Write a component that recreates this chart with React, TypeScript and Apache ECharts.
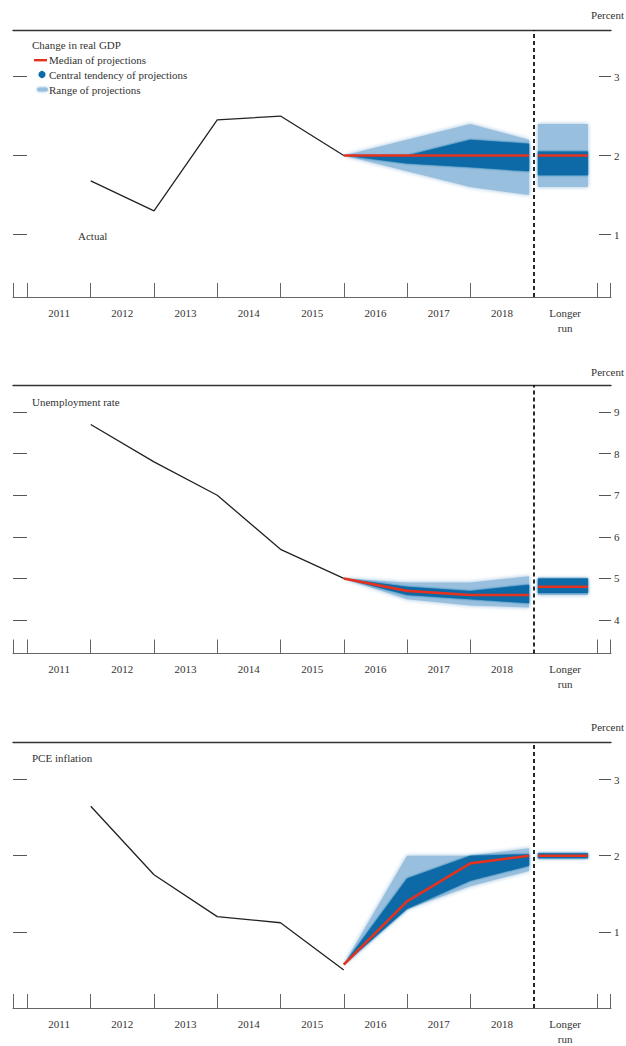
import React, { useEffect, useRef } from 'react';
import * as echarts from 'echarts';

// ---------- DATA ----------
const categories = ['2011', '2012', '2013', '2014', '2015', '2016', '2017', '2018', 'Longer\nrun'];
const actualYears = [2011, 2012, 2013, 2014, 2015];
const projYears = [2015, 2016, 2017, 2018];

// Change in real GDP
const gdpActual = [1.68, 1.3, 2.45, 2.5, 2.0];
const gdpMedian = [2.0, 2.0, 2.0, 2.0];
const gdpCentralLow = [2.0, 1.9, 1.85, 1.8];
const gdpCentralHigh = [2.0, 2.0, 2.2, 2.15];
const gdpRangeLow = [2.0, 1.8, 1.6, 1.5];
const gdpRangeHigh = [2.0, 2.2, 2.4, 2.2];
const gdpLongerRun = [1.6, 1.75, 2.0, 2.05, 2.4]; // range low, central low, median, central high, range high
const gdpTicks = [1, 2, 3];

// Unemployment rate
const urActual = [8.7, 7.8, 7.0, 5.7, 5.0];
const urMedian = [5.0, 4.7, 4.6, 4.6];
const urCentralLow = [5.0, 4.6, 4.5, 4.4];
const urCentralHigh = [5.0, 4.8, 4.7, 4.85];
const urRangeLow = [5.0, 4.5, 4.35, 4.3];
const urRangeHigh = [5.0, 4.9, 4.9, 5.05];
const urLongerRun = [4.6, 4.65, 4.8, 5.0, 5.0];
const urTicks = [4, 5, 6, 7, 8, 9];

// PCE inflation
const pceActual = [2.65, 1.75, 1.2, 1.12, 0.5];
const pceMedian = [0.57, 1.4, 1.9, 2.0];
const pceCentralLow = [0.57, 1.3, 1.67, 1.87];
const pceCentralHigh = [0.57, 1.7, 2.0, 2.02];
const pceRangeLow = [0.57, 1.3, 1.6, 1.8];
const pceRangeHigh = [0.57, 2.0, 2.0, 2.1];
const pceLongerRun = [2.0, 2.0, 2.0, 2.0, 2.0];
const pceTicks = [1, 2, 3];

// ---------- STYLE / LAYOUT ----------
const FONT = '"Liberation Serif", "DejaVu Serif", serif';
const FS = 11;
const TEXT = '#333';
const RED = '#E4321F';
const DARK = '#0D6BA6';
const LIGHT = '#98BFDE';
const X_MIN = -0.229;
const X_MAX = 9.225;
const LR_X0 = 8.07;
const LR_X1 = 8.86;
const END_GAP = 0.07;

const yearX = (y: number) => Math.min(y - 2010, 8 - END_GAP);

function bandSeries(gi: number, lo: number[], hi: number[], color: string, z: number, blur: number) {
  const xs = projYears.map(yearX);
  return {
    type: 'custom',
    xAxisIndex: 2 * gi,
    yAxisIndex: 2 * gi,
    z,
    silent: true,
    data: xs.map((x, k) => [x, lo[k], hi[k]]),
    encode: { x: 0, y: [1, 2] },
    renderItem: (params: any, api: any) => {
      if (params.dataIndex !== 0) return null;
      const top = xs.map((x, k) => api.coord([x, hi[k]]));
      const bot = xs.map((x, k) => api.coord([x, lo[k]])).reverse();
      return {
        type: 'polygon',
        shape: { points: top.concat(bot) },
        style: { fill: color, shadowBlur: blur, shadowColor: color },
      };
    },
  };
}

function boxSeries(gi: number, lo: number, hi: number, color: string, z: number, blur: number) {
  return {
    type: 'custom',
    xAxisIndex: 2 * gi,
    yAxisIndex: 2 * gi,
    z,
    silent: true,
    data: [[LR_X0, LR_X1, lo, hi]],
    encode: { x: [0, 1], y: [2, 3] },
    renderItem: (params: any, api: any) => {
      const a = api.coord([api.value(0), api.value(3)]);
      const b = api.coord([api.value(1), api.value(2)]);
      let y = a[1];
      let h = b[1] - a[1];
      if (h < 5) {
        y = (a[1] + b[1]) / 2 - 2.5;
        h = 5;
      }
      return {
        type: 'rect',
        shape: { x: a[0], y, width: b[0] - a[0], height: h },
        style: { fill: color, shadowBlur: blur, shadowColor: color },
      };
    },
  };
}

const panels = [
  {
    top: 30, height: 267, yMin: 0.209, yMax: 3.589, ticks: gdpTicks,
    actual: gdpActual, median: gdpMedian, cLo: gdpCentralLow, cHi: gdpCentralHigh,
    rLo: gdpRangeLow, rHi: gdpRangeHigh, lr: gdpLongerRun,
  },
  {
    top: 385, height: 268.5, yMin: 3.195, yMax: 9.649, ticks: urTicks,
    actual: urActual, median: urMedian, cLo: urCentralLow, cHi: urCentralHigh,
    rLo: urRangeLow, rHi: urRangeHigh, lr: urLongerRun,
  },
  {
    top: 742, height: 268.5, yMin: 0.0, yMax: 3.494, ticks: pceTicks,
    actual: pceActual, median: pceMedian, cLo: pceCentralLow, cHi: pceCentralHigh,
    rLo: pceRangeLow, rHi: pceRangeHigh, lr: pceLongerRun,
  },
];

function buildOption() {
  const grid: any[] = [];
  const xAxis: any[] = [];
  const yAxis: any[] = [];
  const series: any[] = [];

  panels.forEach((p, gi) => {
    grid.push({ left: 13, right: 15, top: p.top, height: p.height, containLabel: false });
    xAxis.push({
      type: 'value', gridIndex: gi, position: 'bottom', min: X_MIN, max: X_MAX,
      axisLine: { show: true, onZero: false, lineStyle: { color: '#666', width: 1 } },
      axisTick: {
        show: true, inside: true, length: 14,
        customValues: [-0.225, 0, 1, 2, 3, 4, 5, 6, 7, 9, 9.22],
        lineStyle: { color: '#666', width: 1 },
      },
      axisLabel: {
        show: true,
        customValues: [0.5, 1.5, 2.5, 3.5, 4.5, 5.5, 6.5, 7.5, 8.5],
        formatter: (v: number) => categories[Math.floor(v)] ?? '',
        fontFamily: FONT, fontSize: FS, color: TEXT, margin: 8, lineHeight: 15,
      },
      splitLine: { show: false },
    });
    xAxis.push({
      type: 'value', gridIndex: gi, position: 'top', min: X_MIN, max: X_MAX,
      axisLine: { show: true, onZero: false, lineStyle: { color: '#333', width: 1.3 } },
      axisTick: { show: false }, axisLabel: { show: false }, splitLine: { show: false },
    });
    yAxis.push({
      type: 'value', gridIndex: gi, position: 'left', min: p.yMin, max: p.yMax,
      axisLine: { show: false, onZero: false },
      axisTick: { show: true, inside: true, length: 14, customValues: p.ticks, lineStyle: { color: '#555', width: 1 } },
      axisLabel: { show: false }, splitLine: { show: false },
    });
    yAxis.push({
      type: 'value', gridIndex: gi, position: 'right', min: p.yMin, max: p.yMax,
      axisLine: { show: false, onZero: false },
      axisTick: { show: true, inside: true, length: 12, customValues: p.ticks, lineStyle: { color: '#555', width: 1 } },
      axisLabel: { show: true, customValues: p.ticks, margin: 3, fontFamily: FONT, fontSize: FS, color: TEXT },
      splitLine: { show: false },
    });

    const [lrRLo, lrCLo, lrMed, lrCHi, lrRHi] = p.lr;
    series.push(bandSeries(gi, p.rLo, p.rHi, LIGHT, 1, 4));
    series.push(bandSeries(gi, p.cLo, p.cHi, DARK, 2, 2));
    series.push(boxSeries(gi, lrRLo, lrRHi, LIGHT, 1, 4));
    series.push(boxSeries(gi, lrCLo, lrCHi, DARK, 2, 2));
    series.push({
      type: 'line', xAxisIndex: 2 * gi, yAxisIndex: 2 * gi, z: 4, silent: true,
      data: projYears.map((y, k) => [yearX(y), p.median[k]]),
      showSymbol: false, symbol: 'none',
      lineStyle: { color: RED, width: 2.6 },
    });
    series.push({
      type: 'line', xAxisIndex: 2 * gi, yAxisIndex: 2 * gi, z: 4, silent: true,
      data: [[LR_X0, lrMed], [LR_X1, lrMed]],
      showSymbol: false, symbol: 'none',
      lineStyle: { color: RED, width: 2.6 },
    });
    series.push({
      type: 'line', xAxisIndex: 2 * gi, yAxisIndex: 2 * gi, z: 5, silent: true,
      data: actualYears.map((y, k) => [yearX(y), p.actual[k]]),
      showSymbol: false, symbol: 'none',
      lineStyle: { color: '#222', width: 1.3 },
      markLine: {
        silent: true, symbol: ['none', 'none'],
        label: { show: false },
        lineStyle: { color: '#111', type: [4, 3], width: 1.8 },
        data: [{ xAxis: 8 }],
      },
    });
  });

  const txt = (x: number, y: number, text: string, align: string = 'left') => ({
    type: 'text', x, y, silent: true,
    style: { text, fill: TEXT, font: `${FS}px ${FONT}`, align, verticalAlign: 'middle' },
  });

  const graphic: any[] = [
    txt(624, 15, 'Percent', 'right'),
    txt(624, 372, 'Percent', 'right'),
    txt(624, 727, 'Percent', 'right'),
    txt(32, 45, 'Change in real GDP'),
    txt(49, 60, 'Median of projections'),
    txt(49, 75, 'Central tendency of projections'),
    txt(49, 90, 'Range of projections'),
    txt(78, 236, 'Actual'),
    txt(32, 402, 'Unemployment rate'),
    txt(32, 758, 'PCE inflation'),
    { type: 'rect', silent: true, shape: { x: 34, y: 59, width: 13, height: 2.4 }, style: { fill: RED } },
    { type: 'circle', silent: true, shape: { cx: 42, cy: 74.5, r: 3.6 }, style: { fill: DARK } },
    { type: 'rect', silent: true, shape: { x: 37, y: 87.5, width: 11, height: 4, r: 2 }, style: { fill: LIGHT, shadowBlur: 3, shadowColor: LIGHT } },
  ];

  return { animation: false, backgroundColor: '#fff', grid, xAxis, yAxis, series, graphic };
}

export default function App() {
  const ref = useRef<HTMLDivElement>(null);
  useEffect(() => {
    if (!ref.current) return;
    const chart = echarts.init(ref.current, undefined, { renderer: 'svg' });
    chart.setOption(buildOption() as any);
    return () => chart.dispose();
  }, []);
  return (
    <div
      ref={ref}
      style={{ position: 'absolute', left: 0, top: 0, width: 626, height: 1046, background: '#fff' }}
    />
  );
}
